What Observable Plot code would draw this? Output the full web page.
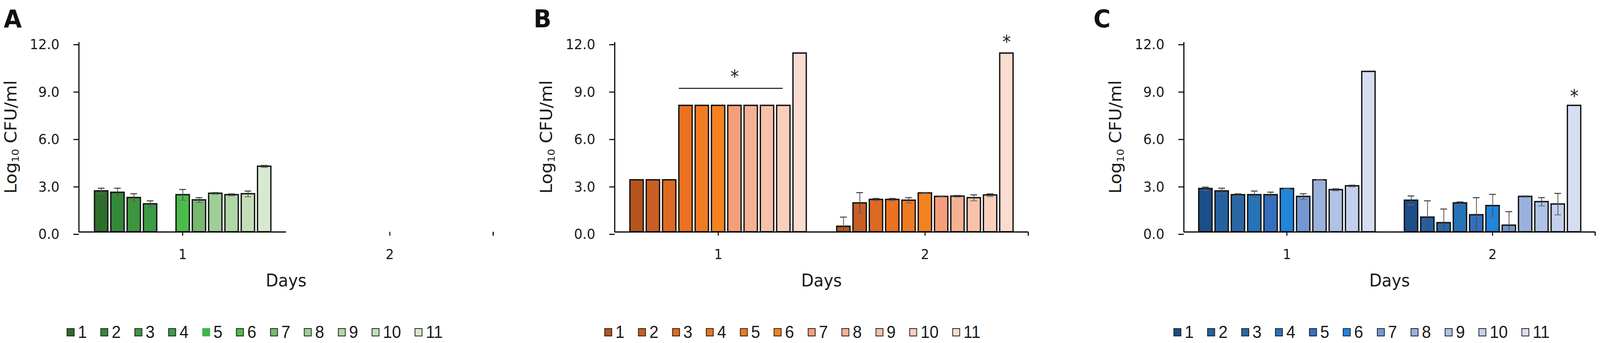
<!DOCTYPE html>
<html>
<head>
<meta charset="utf-8">
<script src="https://cdn.jsdelivr.net/npm/d3@7"></script>
<script src="https://cdn.jsdelivr.net/npm/@observablehq/plot@0.6"></script>
<style>
  html, body { margin: 0; padding: 0; background: #fff; overflow: hidden; }
  #page { width: 4318px; height: 879px; position: relative; overflow: hidden; font-family: "DejaVu Sans", sans-serif; color: #1a1a1a; transform-origin: 0 0; background: #fff; }
  .chart { position: absolute; top: 0; }
  .letter { position: absolute; top: 17px; font: bold 63px/63px "DejaVu Sans", sans-serif; color: #111; z-index: 2; }
  .legend { position: absolute; top: 829px; display: flex; gap: 37px; font: 44px/44px "Liberation Sans Narrow", "Liberation Sans", Arial, sans-serif; color: #1a1a1a; z-index: 2; white-space: nowrap; }
  .legend .item { display: flex; align-items: flex-start; }
  .legend .sw { box-sizing: border-box; width: 21px; height: 21px; border: 2.5px solid #222; margin-top: 12px; margin-right: 9px; }
</style>
</head>
<body>
<div id="page"></div>
<script>
// ---------- data ----------
const series = [1, 2, 3, 4, 5, 6, 7, 8, 9, 10, 11];
const days = [1, 2];
const yTicks = [0, 3, 6, 9, 12];

const greens  = ["#2e6e2c", "#33893a", "#3d953d", "#3c9c45", "#3fb54a", "#4cbb4c", "#78b86f", "#9fce97", "#b0d6a6", "#c3deb9", "#d8e9d1"];
const oranges = ["#b5541d", "#c75f24", "#dc6a22", "#ea7220", "#ef7b23", "#f4831f", "#f49f79", "#f5b293", "#f7c2a8", "#f9cfbc", "#fbdcd0"];
const blues   = ["#1c4e89", "#25609f", "#2a68a5", "#2673b8", "#356fbf", "#1f86dc", "#7497d2", "#9ab1de", "#b0c2e6", "#c3d0ed", "#d6def2"];

// Panel A (day 2: no growth)
const aDay1    = [2.59, 2.50, 2.17, 1.77, null, 2.35, 2.02, 2.44, 2.35, 2.41, 4.15];
const aDay1Err = [0.18, 0.27, 0.25, 0.20, null, 0.34, 0.15, 0.05, 0.06, 0.18, 0.06];
const aDay2    = [0, 0, 0, 0, 0, 0, 0, 0, 0, 0, 0];
const aDay2Err = [0, 0, 0, 0, 0, 0, 0, 0, 0, 0, 0];

// Panel B
const bDay1    = [3.29, 3.29, 3.29, 8.00, 8.00, 8.00, 8.00, 8.00, 8.00, 8.00, 11.31];
const bDay1Err = [0, 0, 0, 0, 0, 0, 0, 0, 0, 0, 0];
const bDay2    = [0.35, 1.83, 2.05, 2.05, 2.00, 2.46, 2.24, 2.26, 2.16, 2.33, 11.31];
const bDay2Err = [0.59, 0.66, 0.07, 0.07, 0.17, 0.03, 0.03, 0.05, 0.19, 0.08, 0];

// Panel C
const cDay1    = [2.74, 2.59, 2.35, 2.35, 2.35, 2.74, 2.24, 3.29, 2.67, 2.91, 10.15];
const cDay1Err = [0.10, 0.18, 0.06, 0.24, 0.17, 0.02, 0.18, 0.02, 0.06, 0.05, 0];
const cDay2    = [2.00, 0.93, 0.58, 1.83, 1.08, 1.66, 0.42, 2.24, 1.91, 1.76, 8.00];
const cDay2Err = [0.28, 1.04, 0.87, 0.07, 1.09, 0.72, 0.87, 0.04, 0.26, 0.68, 0];

// significance marks
const bBracket = [{day: 1, from: 4, to: 10, y: 9.09}];
const bStars   = [{day: 1, series: 7, y: 10.1}, {day: 2, series: 11, y: 12.3}];
const cStars   = [{day: 2, series: 11, y: 8.86}];

// ---------- drawing ----------
const page = document.getElementById("page");
const H = 879, MT = 108, MB = 879 - 594;

function drawPanel(cfg) {
  const ML = cfg.marginLeft;
  const rows = [];
  cfg.values.forEach((vals, di) => vals.forEach((v, si) => {
    if (v == null || v <= 0) return;
    rows.push({day: days[di], series: series[si], value: v, err: cfg.errors[di][si] || 0});
  }));
  const errRows = rows.filter(d => d.err > 0);
  const lowRows = errRows.filter(d => d.value - d.err > 0.05);
  const width = ML + cfg.plotW + 12;

  const plot = Plot.plot({
    width, height: H,
    marginLeft: ML, marginRight: 12, marginTop: MT, marginBottom: MB,
    style: {fontFamily: "DejaVu Sans, sans-serif", color: "#1a1a1a", background: "transparent", overflow: "visible"},
    fx: {domain: days, paddingInner: 0, paddingOuter: 0, label: null},
    x: {domain: series, paddingInner: 0.19, paddingOuter: 0.84, axis: null},
    y: {domain: [0, 12], label: null},
    color: {type: "ordinal", domain: series, range: cfg.colors},
    marks: [
      Plot.barY(rows, {fx: "day", x: "series", y: "value", fill: "series", stroke: "#111", strokeWidth: 3.5}),
      Plot.ruleX(errRows, {fx: "day", x: "series", y1: d => Math.max(0, d.value - d.err), y2: d => d.value + d.err, stroke: "#4a4a4a", strokeWidth: 2}),
      Plot.tickY(errRows, {fx: "day", x: "series", y: d => d.value + d.err, inset: 9, stroke: "#3a3a3a", strokeWidth: 2.5}),
      Plot.tickY(lowRows, {fx: "day", x: "series", y: d => d.value - d.err, inset: 9, stroke: "#6a6a6a", strokeWidth: 2}),
      Plot.ruleY(cfg.bracket || [], {fx: "day", x1: "from", x2: "to", y: "y", insetRight: 20, stroke: "#222", strokeWidth: 2.8}),
      Plot.text(cfg.stars || [], {fx: "day", x: "series", y: "y", text: () => "*", fontSize: 46, dy: 12, fill: "#222"}),
      Plot.ruleY([0], {stroke: "#000", strokeWidth: 3}),
      Plot.axisY({ticks: yTicks, tickFormat: d3.format(".1f"), tickSize: 15, tickPadding: 38, fontSize: 36, dy: 6, strokeWidth: 3, label: null}),
      Plot.axisFx({anchor: "bottom", tickSize: 10, tickPadding: 35, fontSize: 35, strokeWidth: 3, label: null})
    ]
  });

  const svg = d3.select(plot);
  const y = plot.scale("y");
  const fx = plot.scale("fx");
  const [r0, r1] = fx.range;
  const y0 = y.apply(0), yTop = y.apply(12);

  // y axis line and end tick of the x axis
  svg.append("line").attr("x1", r0).attr("x2", r0).attr("y1", y0 + 1.5).attr("y2", yTop)
    .attr("stroke", "#000").attr("stroke-width", 3);
  svg.append("line").attr("x1", r1).attr("x2", r1).attr("y1", y0).attr("y2", y0 + 10)
    .attr("stroke", "#000").attr("stroke-width", 3);

  // y axis title with subscript
  const t = svg.append("text")
    .attr("transform", `translate(${r0 - 169},${(y0 + yTop) / 2}) rotate(-90)`)
    .attr("text-anchor", "middle").attr("font-size", 45).attr("fill", "#1a1a1a")
    .attr("font-family", "DejaVu Sans, sans-serif");
  t.append("tspan").text("Log");
  t.append("tspan").attr("font-size", 27).attr("dy", 7).text("10");
  t.append("tspan").attr("dy", -7).text("\u00a0CFU/ml");

  // x axis title
  svg.append("text").attr("x", (r0 + r1) / 2).attr("y", y0 + 140)
    .attr("text-anchor", "middle").attr("font-size", 44).attr("fill", "#1a1a1a")
    .attr("font-family", "DejaVu Sans, sans-serif").text("Days");

  const holder = document.createElement("div");
  holder.className = "chart";
  holder.style.left = (cfg.plotLeft - ML) + "px";
  holder.appendChild(plot);
  page.appendChild(holder);

  // panel letter
  const letter = document.createElement("div");
  letter.className = "letter";
  letter.style.left = cfg.letterX + "px";
  letter.textContent = cfg.letter;
  page.appendChild(letter);

  // legend
  const legend = document.createElement("div");
  legend.className = "legend";
  legend.style.left = cfg.legendX + "px";
  series.forEach((s, i) => {
    const item = document.createElement("span");
    item.className = "item";
    const sw = document.createElement("span");
    sw.className = "sw";
    sw.style.background = cfg.colors[i];
    if (cfg.noBorder && cfg.noBorder.includes(s)) sw.style.borderColor = cfg.colors[i];
    const lab = document.createElement("span");
    lab.textContent = s;
    item.appendChild(sw); item.appendChild(lab);
    legend.appendChild(item);
  });
  page.appendChild(legend);
}

drawPanel({letter: "A", letterX: 10, plotLeft: 213, marginLeft: 213, plotW: 1118, legendX: 180,
  colors: greens, values: [aDay1, aDay2], errors: [aDay1Err, aDay2Err], noBorder: [5]});
drawPanel({letter: "B", letterX: 1440, plotLeft: 1659, marginLeft: 240, plotW: 1116, legendX: 1631,
  colors: oranges, values: [bDay1, bDay2], errors: [bDay1Err, bDay2Err], bracket: bBracket, stars: bStars});
drawPanel({letter: "C", letterX: 2951, plotLeft: 3195, marginLeft: 240, plotW: 1110, legendX: 3167,
  colors: blues, values: [cDay1, cDay2], errors: [cDay1Err, cDay2Err], stars: cStars});

// fit the 4318x879 layout into the actual viewport if it is smaller
function fit() {
  const vw = document.documentElement.clientWidth || window.innerWidth;
  const vh = document.documentElement.clientHeight || window.innerHeight;
  const sx = vw > 0 && vw < 4318 ? vw / 4318 : 1;
  const sy = vh > 0 && vh < 879 ? vh / 879 : 1;
  page.style.transform = (sx !== 1 || sy !== 1) ? `scale(${sx}, ${sy})` : "";
}
fit();
window.addEventListener("resize", fit);
</script>
</body>
</html>
